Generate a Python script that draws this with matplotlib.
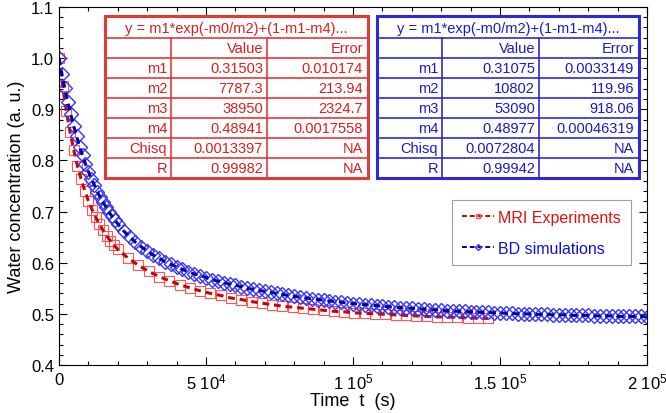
import matplotlib
matplotlib.use("Agg")
import matplotlib.pyplot as plt
from matplotlib.patches import Rectangle
from matplotlib.lines import Line2D
from matplotlib.ticker import FixedLocator, MultipleLocator

plt.rcParams['font.family'] = ['Liberation Sans', 'DejaVu Sans']
plt.rcParams['mathtext.fontset'] = 'custom'
plt.rcParams['mathtext.rm'] = 'Liberation Sans'
plt.rcParams['mathtext.it'] = 'Liberation Sans:italic'

# MRI experiments
mri_t = [0, 1250, 2500, 3750, 5000, 6250, 7500, 8750, 10000, 11250, 12500,
         13750, 15000, 16250, 17500, 18750, 20000, 23500, 27000, 30500, 34000,
         37500, 41000, 44500, 48000, 51500, 55000, 58500, 62000, 65500, 69000,
         72500, 76000, 79500, 83000, 86500, 90000, 93500, 97000, 100500, 104000,
         107500, 111000, 114500, 118000, 121500, 125000, 128500, 132000, 135500,
         139000, 142500, 146000]
mri_y = [1.000, 0.945, 0.897, 0.856, 0.821, 0.790, 0.764, 0.741, 0.721, 0.704,
         0.689, 0.675, 0.663, 0.652, 0.643, 0.634, 0.626, 0.609, 0.595, 0.583,
         0.573, 0.565, 0.557, 0.551, 0.545, 0.540, 0.536, 0.531, 0.528, 0.524,
         0.521, 0.518, 0.515, 0.513, 0.511, 0.509, 0.507, 0.505, 0.504, 0.502,
         0.501, 0.500, 0.499, 0.498, 0.497, 0.496, 0.495, 0.494, 0.494, 0.493,
         0.492, 0.492, 0.491]

# BD simulations: every 1000 s up to 2 10^4, then every 2000 s
bd_t = list(range(0, 20001, 1000)) + list(range(22000, 200001, 2000))
bd_y = [1.000, 0.969, 0.941, 0.914, 0.890, 0.867, 0.847, 0.827, 0.810, 0.793,
        0.778, 0.764, 0.752, 0.739, 0.728, 0.718, 0.709, 0.699, 0.691, 0.683,
        0.676,
        0.662, 0.651, 0.640, 0.631, 0.623, 0.615, 0.609, 0.602, 0.597, 0.592,
        0.587, 0.582, 0.578, 0.575, 0.571, 0.567, 0.564, 0.561, 0.558, 0.556,
        0.553, 0.550, 0.548, 0.546, 0.544, 0.542, 0.540, 0.538, 0.536, 0.534,
        0.533, 0.531, 0.529, 0.528, 0.527, 0.525, 0.524, 0.523, 0.521, 0.520,
        0.519, 0.518, 0.517, 0.516, 0.515, 0.514, 0.513, 0.512, 0.511, 0.511,
        0.510, 0.509, 0.508, 0.508, 0.507, 0.506, 0.506, 0.505, 0.505, 0.504,
        0.504, 0.503, 0.503, 0.502, 0.502, 0.501, 0.501, 0.500, 0.500, 0.500,
        0.499, 0.499, 0.499, 0.498, 0.498, 0.498, 0.497, 0.497, 0.497, 0.497,
        0.496, 0.496, 0.496, 0.496, 0.495, 0.495, 0.495, 0.495, 0.495, 0.494]

xticks = [0, 50000, 100000, 150000, 200000]
xtick_labels = ["0", "5 10$^{4}$", "1 10$^{5}$", "1.5 10$^{5}$", "2 10$^{5}$"]
yticks = [0.4, 0.5, 0.6, 0.7, 0.8, 0.9, 1.0, 1.1]

fit_title = "y = m1*exp(-m0/m2)+(1-m1-m4)..."
param_names = ["m1", "m2", "m3", "m4", "Chisq", "R"]
mri_values = ["0.31503", "7787.3", "38950", "0.48941", "0.0013397", "0.99982"]
mri_errors = ["0.010174", "213.94", "2324.7", "0.0017558", "NA", "NA"]
bd_values = ["0.31075", "10802", "53090", "0.48977", "0.0072804", "0.99942"]
bd_errors = ["0.0033149", "119.96", "918.06", "0.00046319", "NA", "NA"]

W, H = 666, 414
fig = plt.figure(figsize=(W / 100, H / 100), dpi=100)
ax = fig.add_axes([59 / W, 48 / H, (647 - 59) / W, (366 - 8) / H])


def px(x, y):
    return x / W, 1 - y / H


red_mk, red_ln = '#ff5555', '#cc0000'
blue_mk, blue_ln = '#3535f0', '#0000a8'

ax.plot(mri_t, mri_y, ls='none', marker='s', ms=6.5, mfc='none', mec=red_mk, mew=0.8)
ax.plot(mri_t, mri_y, ls=(0, (2.2, 1.6)), lw=2.2, color=red_ln)
ax.plot(bd_t, bd_y, ls='none', marker='D', ms=7, mfc='none', mec=blue_mk, mew=1.0)
ax.plot(bd_t, bd_y, ls=(0, (2.2, 1.6)), lw=2.2, color=blue_ln)

ax.set_xlim(0, 200000)
ax.set_ylim(0.4, 1.1)
ax.xaxis.set_major_locator(FixedLocator(xticks))
ax.set_xticklabels(xtick_labels)
ax.xaxis.set_minor_locator(MultipleLocator(10000))
ax.set_yticks(yticks)
ax.set_yticklabels(["%.1f" % v for v in yticks])
ax.yaxis.set_minor_locator(MultipleLocator(0.02))
ax.tick_params(which='both', direction='in', top=True, right=True, labelsize=12, width=0.8)
ax.tick_params(which='major', length=6)
ax.tick_params(which='minor', length=3)
ax.tick_params(axis='x', pad=5)
for s in ax.spines.values():
    s.set_linewidth(0.8)
ax.set_xlabel("Time  t  (s)", fontsize=13, labelpad=0)
ax.set_ylabel("Water concentration (a. u.)", fontsize=13, labelpad=4)

# legend
handles = [Line2D([], [], ls=(0, (2.5, 1.5)), lw=1.4, color=red_ln, marker='s', ms=3.5,
                  mfc='none', mec=red_mk),
           Line2D([], [], ls=(0, (2.5, 1.5)), lw=1.4, color=blue_ln, marker='D', ms=3,
                  mfc='none', mec=blue_mk)]
leg = ax.legend(handles, ["MRI Experiments", "BD simulations"], loc='upper left',
                bbox_to_anchor=px(452, 201), bbox_transform=fig.transFigure,
                borderaxespad=0, fancybox=False, edgecolor='#a0a0a0', framealpha=1,
                fontsize=11.5, handlelength=2.0, handletextpad=0.3,
                labelspacing=1.0, borderpad=0.6)
leg.get_frame().set_linewidth(0.8)
for txt, c in zip(leg.get_texts(), ['#e01010', '#1010d0']):
    txt.set_color(c)


def draw_table(x0, widths, line_c, text_c, values, errors):
    top, bottom = 17, 179
    right = x0 + sum(widths)
    xl, yl = px(x0, bottom)
    xr, yt = px(right, top)
    fig.patches.append(Rectangle((xl, yl), xr - xl, yt - yl, transform=fig.transFigure,
                                 facecolor='white', edgecolor=line_c, lw=2.2, zorder=3))
    rows = [top, 39] + [39 + 20 * i for i in range(1, 8)]
    for y in rows[1:-1]:
        fig.lines.append(Line2D([x0 / W, right / W], [1 - y / H] * 2,
                                transform=fig.transFigure, color=line_c, lw=1.2, zorder=4))
    cx = [x0, x0 + widths[0], x0 + widths[0] + widths[1], right]
    for x in cx[1:3]:
        fig.lines.append(Line2D([x / W] * 2, [1 - 39 / H, 1 - bottom / H],
                                transform=fig.transFigure, color=line_c, lw=1.2, zorder=4))
    fs = 10.5
    fig.text(*px((x0 + right) / 2, 28.5), fit_title, color=text_c, fontsize=fs,
             ha='center', va='center', zorder=5)
    fig.text(*px(cx[2] - 4, 49), "Value", color=text_c, fontsize=fs, ha='right', va='center', zorder=5)
    fig.text(*px(cx[3] - 5, 49), "Error", color=text_c, fontsize=fs, ha='right', va='center', zorder=5)
    for i, name in enumerate(param_names):
        yc = 69 + 20 * i
        fig.text(*px(cx[1] - 4, yc), name, color=text_c, fontsize=fs, ha='right', va='center', zorder=5)
        fig.text(*px(cx[2] - 4, yc), values[i], color=text_c, fontsize=fs, ha='right', va='center', zorder=5)
        fig.text(*px(cx[3] - 5, yc), errors[i], color=text_c, fontsize=fs, ha='right', va='center', zorder=5)


draw_table(105, [66, 96, 101], '#e03a3a', '#dc1e1e', mri_values, mri_errors)
draw_table(377, [65, 97, 100], '#2a2ad8', '#1a1ac8', bd_values, bd_errors)

fig.savefig("out.png", dpi=100)
